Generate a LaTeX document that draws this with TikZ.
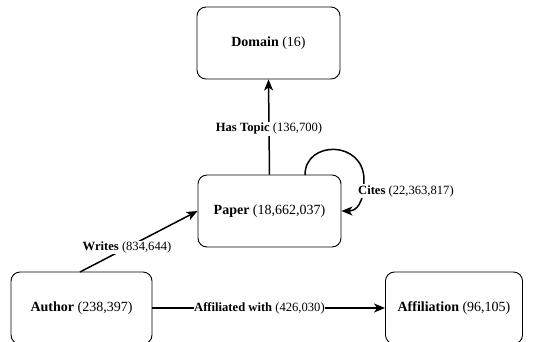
\documentclass[tikz,border=0pt]{standalone}
\usepackage{fontspec}
\setmainfont{Liberation Serif}
\usetikzlibrary{arrows.meta}
\begin{document}
\begin{tikzpicture}[x=1pt,y=-1pt,
  entity/.style={draw, line width=0.9pt, rounded corners=9pt, minimum width=143pt, minimum height=72pt, font=\fontsize{14}{16}\selectfont, inner sep=0pt},
  rel/.style={line width=1.5pt, -{Stealth[length=11pt,width=9pt,inset=3pt]}},
  lbl/.style={fill=white, inner sep=1pt, font=\fontsize{12.6}{14}\selectfont}]
\useasboundingbox (0,0) rectangle (536,341);
\node[entity] (domain) at (268.5,43) {\textbf{Domain} (16)};
\node[entity] (paper) at (269.5,211) {\textbf{Paper} (18,662,037)};
\node[entity, minimum width=141pt] (author) at (81.5,308) {\textbf{Author} (238,397)};
\node[entity, minimum width=137pt] (affil) at (454,308) {\textbf{Affiliation} (96,105)};
\draw[rel] (paper.north) -- node[lbl, pos=0.48] (ht) {\textbf{Has Topic} (136,700)} (domain.south);
\coordinate (cs) at (305,175);
\draw[rel] (cs) .. controls (305,140) and (364,140) .. (364,180) .. controls (364,204) and (356,211) .. (paper.east);
\node[lbl, anchor=west] (cites) at (357,191) {\textbf{Cites} (22,363,817)};
\coordinate (ws) at (80,272);
\draw[rel] (ws) -- node[lbl, pos=0.4] (wr) {\textbf{Writes} (834,644)} (paper.west);
\draw[rel] (author.east) -- node[lbl, inner xsep=0pt, pos=0.46] (af) {\textbf{Affiliated with} (426,030)} (affil.west);
\end{tikzpicture}
\end{document}
